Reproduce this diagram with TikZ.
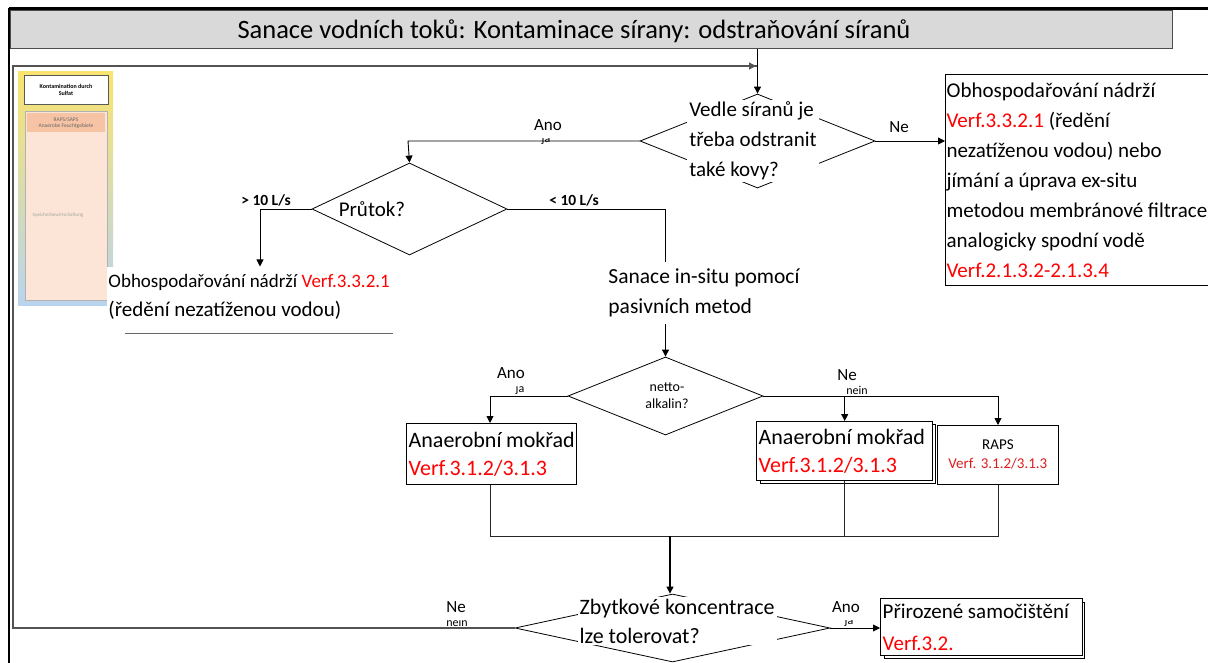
\documentclass[tikz,border=0pt]{standalone}
\usepackage{fontspec}
\setmainfont{Carlito}
\usepackage{tikz}
\usetikzlibrary{shapes.geometric,arrows.meta}

\definecolor{titlegray}{RGB}{217,217,217}
\definecolor{verfred}{RGB}{255,0,0}
\definecolor{rapsred}{RGB}{220,30,30}
\definecolor{thumbyellow}{RGB}{250,228,110}
\definecolor{thumbgreen}{RGB}{205,225,190}
\definecolor{thumbblue}{RGB}{185,212,238}
\definecolor{thumbpeach}{RGB}{252,228,214}
\definecolor{thumborange}{RGB}{246,196,165}

\newcommand{\titletxt}{\fontsize{26.5}{30}\selectfont}
\newcommand{\bigtxt}{\fontsize{21}{30}\selectfont}
\newcommand{\boxtxt}{\fontsize{22}{28}\selectfont}
\newcommand{\labtxt}{\fontsize{17}{19}\selectfont}
\newcommand{\flowtxt}{\fontsize{15.5}{17}\selectfont\bfseries}
\newcommand{\smalltxt}{\fontsize{14}{17}\selectfont}
\newcommand{\rapstxt}{\fontsize{15}{19}\selectfont}
\newcommand{\resttxt}{\fontsize{12}{13}\selectfont}
\newcommand{\thumbtxt}{\fontsize{6}{7}\selectfont}

\begin{document}
\begin{tikzpicture}[x=1pt,y=-1pt,line width=0.9pt,
    arr/.style={-{Triangle[length=7pt,width=7pt]}},
    dia/.style={diamond,draw,inner sep=0pt,line width=0.8pt},
    qtext/.style={fill=white,inner sep=2pt,align=flush left,font=\bigtxt},
    resbox/.style={draw,line width=1.4pt,align=flush left,inner xsep=2pt,inner ysep=0pt,font=\boxtxt},
    lab/.style={fill=white,inner xsep=1pt,inner ysep=7pt,font=\labtxt},
    rest/.style={inner sep=0pt,font=\resttxt},
    loopline/.style={draw=gray!65!black,line width=1.3pt}]
\useasboundingbox (0,0) rectangle (1208,663);

% frame and title
\fill[black] (9,7) rectangle (1208,10);
\draw[line width=2pt] (9,8) -- (9,663);
\node[draw=gray!60!black,fill=titlegray,minimum width=1162pt,minimum height=38pt,
    inner sep=0pt,anchor=north west] (titlebox) at (10,10) {};
\node[font=\titletxt] (title) at (574,31) {
    Sanace vodních toků: Kontaminace sírany: odstraňování síranů
    };

% little overview picture on the left
\shade[top color=thumbyellow,middle color=thumbgreen,bottom color=thumbblue] (18,72) rectangle (113,305);
\node[draw=gray!70!black,fill=white,minimum width=84pt,minimum height=29pt,inner sep=0pt,
    align=flush center,font=\thumbtxt\bfseries] (kontam) at (66,89.5) {Kontamination durch\\Sulfat};
\node[draw=gray!60,line width=1pt,fill=thumbpeach,minimum width=82pt,minimum height=189pt,
    inner sep=0pt,anchor=north west] (speicher) at (25,111) {};
\node[fill=thumborange,minimum width=78pt,minimum height=19pt,inner sep=0pt,align=flush center,
    text=gray!80!black,font=\fontsize{5.5}{6.5}\selectfont] (rapssaps) at (66,123) {RAPS/SAPS\\Anaerobe Feuchtgebiete};
\node[text=gray!70,font=\fontsize{5}{6}\selectfont] (speichertxt) at (58,215) {Speicherbewirtschaftung};

% decisions
\node[dia,minimum width=235pt,minimum height=94pt] (kovy) at (757.5,141) {};
\node[qtext] (kovytxt) at (753,141) {
    Vedle síranů je\\třeba odstranit\\také kovy?
    };
\node[dia,minimum width=195pt,minimum height=92pt] (prutok) at (409.5,209) {};
\node[font=\bigtxt] (prutoktxt) at (372,209) {Průtok?};
\node[dia,minimum width=195pt,minimum height=78pt] (netto) at (665.5,396) {};
\node[align=flush center,font=\smalltxt] (nettotxt) at (667,396) {netto-\\alkalin?};
\node[dia,minimum width=315pt,minimum height=68pt] (zbytek) at (672.5,628) {};
\node[qtext,font=\fontsize{22}{29}\selectfont] (zbytektxt) at (677,621) {
    Zbytkové koncentrace\\lze tolerovat?
    };

% results
\node[draw,line width=1.2pt,align=flush left,text width=290pt,inner xsep=1pt,minimum height=211pt,
    anchor=north west,font=\bigtxt] (nadrz) at (945,74) {
    Obhospodařování nádrží\\
    {\color{verfred}Verf.3.3.2.1} (ředění\\
    nezatíženou vodou) nebo\\
    jímání a úprava ex-situ\\
    metodou membránové filtrace\\
    analogicky spodní vodě\\
    {\color{verfred}Verf.2.1.3.2-2.1.3.4}
    };
\draw[gray!80!black] (125,333) -- (393,333);
\node[fill=white,align=flush left,inner xsep=1pt,inner ysep=7pt,anchor=west,font=\fontsize{19}{29}\selectfont]
    (nadrzleft) at (107,296.5) {
    Obhospodařování nádrží {\color{verfred}Verf.3.3.2.1}\\
    {\fontsize{21}{29}\selectfont (ředění nezatíženou vodou)}
    };
\node[fill=white,align=flush left,inner xsep=1pt,inner ysep=6pt,anchor=west,font=\fontsize{21.5}{30}\selectfont]
    (insitu) at (607,293) {
    Sanace in-situ pomocí\\pasivních metod
    };
\node[resbox,text width=166pt,minimum height=61pt,anchor=north west] (mokrad) at (406,423) {
    Anaerobní mokřad\\{\color{verfred}Verf.3.1.2/3.1.3}
    };
\draw[line width=0.6pt] (760,424) rectangle (935,483);
\node[resbox,text width=172pt,minimum height=59pt,anchor=north west,fill=white] (mokradb) at (756,421) {
    Anaerobní mokřad\\{\color{verfred}Verf.3.1.2/3.1.3}
    };
\node[draw,line width=0.8pt,minimum width=121pt,minimum height=59pt,align=flush center,
    anchor=north west,font=\rapstxt] (raps) at (937,425) {
    RAPS\\{\color{rapsred}Verf. 3.1.2/3.1.3}
    };
\draw[line width=0.6pt] (884,602) rectangle (1084,658);
\node[resbox,text width=198pt,minimum height=57pt,anchor=north west,fill=white,
    font=\fontsize{21}{32}\selectfont] (samo) at (880,598) {
    Přirozené samočištění\\{\color{verfred}Verf.3.2.}
    };

% connectors
\coordinate (entry) at (757,66);
\coordinate (loopbot) at (13,628);
\coordinate (looptop) at (13,66);
\draw[arr] (titlebox.south -| kovy.north) -- (kovy.north);
\draw[loopline] (zbytek.west) -- (loopbot) -- (looptop) -- (entry);
\draw[loopline,arr] (looptop) -- ([xshift=-1pt]entry);

\coordinate (kovyano) at (408,141);
\draw[arr] (kovy.west) -- (kovyano) -- (prutok.north);
\draw[arr] (kovy.east) -- (kovy.east -| nadrz.west);

\coordinate (prutokvel) at (260,209);
\coordinate (prutokmal) at (665,209);
\draw[arr] (prutok.west) -- (prutokvel) -- (prutokvel |- nadrzleft.north);
\draw (prutok.east) -- (prutokmal) -- (prutokmal |- insitu.north);
\draw[arr] (insitu.south -| netto.north) -- (netto.north);

\coordinate (nettoano) at (490,396);
\coordinate (nettone) at (998,396);
\draw[arr] (netto.west) -- (nettoano) -- (nettoano |- mokrad.north);
\draw[arr] (netto.east) -- (nettone) -- (raps.north -| nettone);
\draw[arr] (mokradb.north |- nettone) -- (mokradb.north);

\coordinate (mergea) at (490,536);
\coordinate (mergeb) at (670,536);
\coordinate (mergec) at (998,536);
\draw[gray!30!black] (mokrad.south -| mergea) -- (mergea) -- (mergec) -- (raps.south -| mergec);
\draw[gray!30!black] (mokradb.south) -- (mokradb.south |- mergea);
\draw[arr,line width=1.2pt] (mergeb) -- (zbytek.north -| mergeb);
\draw[arr] (zbytek.east) -- (samo.west |- zbytek.east);

% branch labels
\node[rest] (rja1) at (546,139) {ja};
\node[lab] (ano1) at (548,125) {Ano};
\node[lab] (ne1) at (899,127) {Ne};
\node[font=\flowtxt] (vel) at (266,200) {> 10 L/s};
\node[font=\flowtxt] (mal) at (574,200) {< 10 L/s};
\node[rest] (rja2) at (520,389) {ja};
\node[lab] (ano2) at (511,373) {Ano};
\node[rest] (rnein2) at (857,390) {nein};
\node[lab] (ne2) at (847,375) {Ne};
\node[rest] (rnein3) at (457,622) {nein};
\node[lab] (ne3) at (456,607) {Ne};
\node[rest] (rja4) at (849,621) {ja};
\node[lab] (ano4) at (846,607) {Ano};

%\node[opacity=0.4,fill=red,minimum width=100pt,minimum height=40pt] at (600,600) {};

\end{tikzpicture}
\end{document}
